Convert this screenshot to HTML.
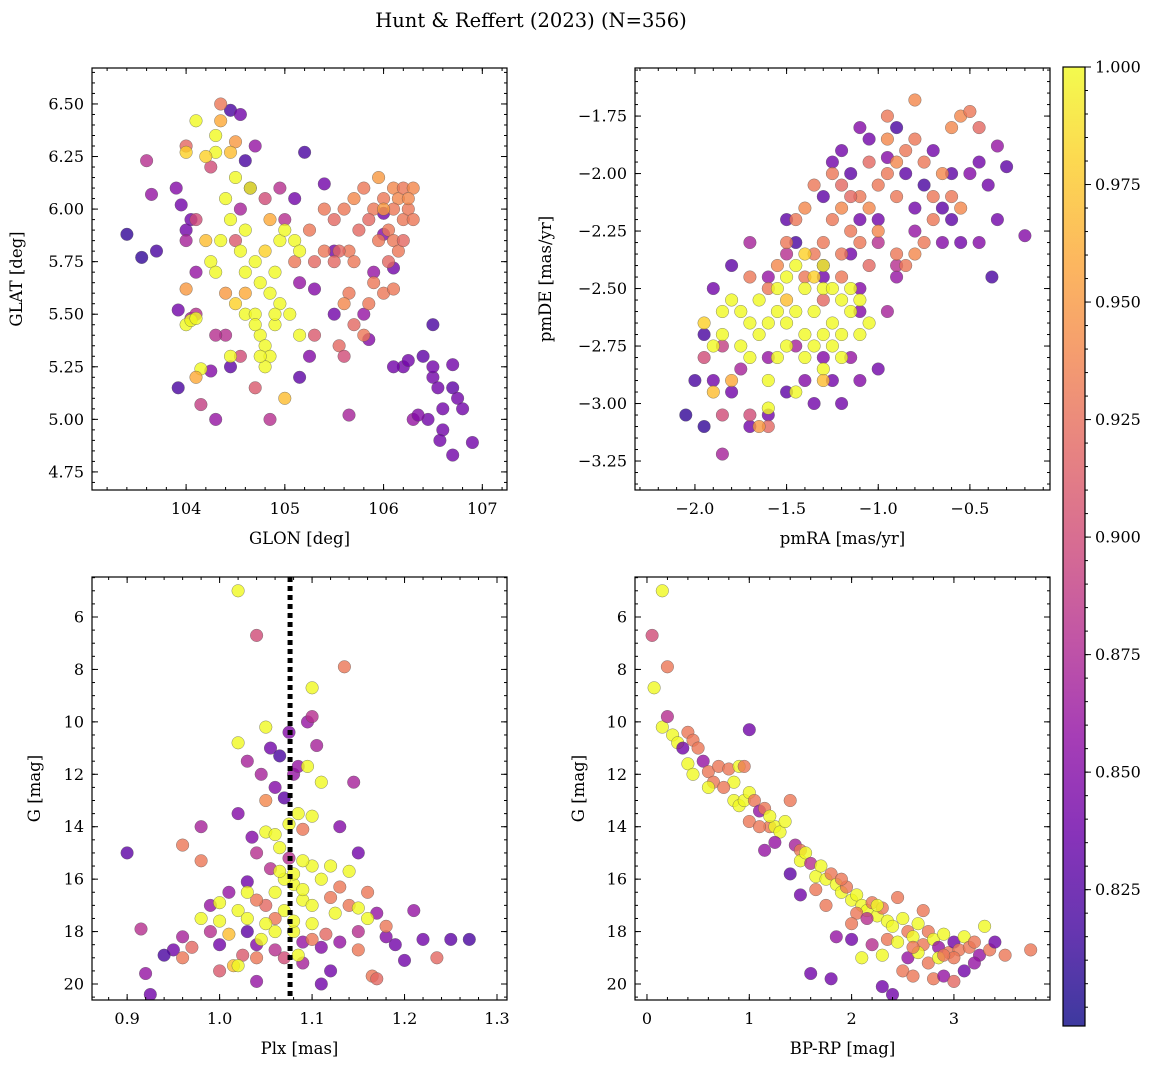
<!DOCTYPE html>
<html><head><meta charset="utf-8">
<style>
body{margin:0;background:#fff;width:1160px;height:1067px;overflow:hidden}
svg{display:block}
text{font-family:"DejaVu Serif","Liberation Serif",serif;fill:#000}
</style></head>
<body>
<svg id="fig" width="1160" height="1067" viewBox="0 0 1160 1067" xmlns="http://www.w3.org/2000/svg">
<defs>
<linearGradient id="plasma" x1="0" y1="1" x2="0" y2="0">
<stop offset="0" stop-color="#0d0887"/><stop offset="0.1" stop-color="#41049d"/><stop offset="0.2" stop-color="#6a00a8"/><stop offset="0.3" stop-color="#8f0da4"/><stop offset="0.4" stop-color="#b12a90"/><stop offset="0.5" stop-color="#cc4778"/><stop offset="0.6" stop-color="#e16462"/><stop offset="0.7" stop-color="#f2844b"/><stop offset="0.8" stop-color="#fca636"/><stop offset="0.9" stop-color="#fcce25"/><stop offset="1" stop-color="#f0f921"/>
</linearGradient>
</defs>
<text x="531" y="27" font-size="19.5" text-anchor="middle">Hunt &amp; Reffert (2023) (N=356)</text>
</svg>
<script>
// ---- data arrays: [x, y, membership probability] ----
const posData = [[103.4,5.88,.81],[103.55,5.77,.81],[103.6,6.23,.88],[103.7,5.8,.82],[103.65,6.07,.86],[103.9,6.1,.85],[103.95,6.02,.84],[103.92,5.52,.84],[103.92,5.15,.82],[104.0,5.9,.84],[104.0,5.85,.87],[104.05,5.48,.87],[104.1,5.5,.88],[104.05,5.95,.84],[104.1,5.7,.86],[104.15,5.07,.89],[104.3,5.0,.86],[104.25,5.23,.85],[104.4,5.4,.88],[104.45,5.25,.83],[104.45,6.47,.82],[104.55,6.45,.84],[104.6,6.23,.82],[104.65,6.1,.83],[104.7,6.3,.86],[104.95,6.1,.88],[105.1,6.05,.84],[105.2,6.27,.82],[105.4,6.12,.84],[105.5,5.8,.84],[105.5,5.5,.84],[105.15,5.2,.83],[105.25,5.3,.85],[105.3,5.62,.85],[105.15,5.65,.86],[105.65,5.02,.87],[105.9,5.7,.86],[105.85,5.38,.85],[105.8,5.5,.86],[106.1,5.72,.84],[106.2,5.25,.84],[106.25,5.28,.84],[106.4,5.3,.83],[106.1,5.25,.84],[106.5,5.45,.82],[106.5,5.2,.84],[106.55,5.15,.84],[106.5,5.25,.84],[106.7,5.15,.83],[106.7,5.26,.84],[106.75,5.1,.84],[106.6,5.05,.84],[106.45,5.0,.84],[106.3,5.0,.86],[106.35,5.02,.85],[106.8,5.05,.84],[106.9,4.89,.84],[106.7,4.83,.84],[106.6,4.95,.84],[106.57,4.9,.84],[106.0,5.98,.84],[106.0,5.88,.85],[104.85,5.0,.88],[104.7,5.15,.91],[104.55,5.3,.9],[104.3,5.4,.88],[104.5,5.85,.91],[104.8,6.05,.9],[105.0,5.95,.88],[104.25,6.2,.9],[104.0,6.3,.92],[104.1,5.95,.9],[104.35,6.5,.93],[104.5,6.32,.95],[104.55,6.0,.87],
[105.4,6.0,.93],[105.5,5.95,.92],[105.6,6.0,.93],[105.7,6.05,.94],[105.8,6.1,.93],[105.9,6.0,.93],[105.95,6.15,.95],[106.0,6.05,.93],[106.1,6.1,.94],[106.15,6.05,.94],[106.2,6.1,.93],[106.1,6.0,.93],[106.2,5.95,.93],[106.25,6.0,.93],[106.3,5.95,.93],[106.05,5.9,.93],[106.1,5.85,.93],[106.15,5.8,.93],[106.2,5.85,.92],[106.05,5.75,.92],[105.95,5.85,.93],[105.85,5.95,.92],[105.75,5.9,.92],[105.65,5.8,.93],[105.55,5.8,.92],[105.4,5.8,.93],[105.5,5.75,.92],[105.7,5.75,.93],[105.65,5.6,.93],[105.6,5.55,.94],[105.7,5.45,.92],[105.55,5.35,.92],[105.8,5.4,.93],[105.85,5.55,.93],[105.25,5.9,.93],[105.3,5.75,.92],[105.1,5.75,.93],[105.9,5.65,.93],[106.0,5.6,.93],[106.1,5.62,.93],[105.6,5.3,.9],[105.3,5.4,.91],[106.0,6.0,.95],[106.3,6.1,.94],[106.25,6.05,.94],
[104.1,6.42,1.0],[104.3,6.35,1.0],[104.3,6.27,1.0],[104.2,6.25,.98],[104.45,6.27,.97],[104.5,6.15,1.0],[104.4,6.05,1.0],[104.45,5.95,1.0],[104.35,5.85,1.0],[104.2,5.85,.97],[104.25,5.75,1.0],[104.3,5.7,1.0],[104.55,5.8,1.0],[104.6,5.9,1.0],[104.6,5.7,1.0],[104.7,5.75,1.0],[104.75,5.65,1.0],[104.8,5.8,.98],[104.9,5.7,1.0],[104.95,5.85,1.0],[105.0,5.9,1.0],[105.1,5.85,1.0],[105.15,5.8,1.0],[104.5,5.55,.98],[104.6,5.5,1.0],[104.7,5.5,1.0],[104.75,5.4,1.0],[104.8,5.35,1.0],[104.85,5.3,1.0],[104.8,5.25,1.0],[104.75,5.3,1.0],[104.7,5.45,1.0],[104.9,5.45,1.0],[104.95,5.55,1.0],[105.05,5.5,1.0],[105.15,5.4,1.0],[104.0,5.45,1.0],[104.05,5.47,1.0],[104.1,5.48,1.0],[104.15,5.24,1.0],[104.1,5.2,.96],[104.6,5.6,.96],[104.4,5.6,.95],[104.0,5.62,.95],[104.85,5.95,.96],[105.0,5.1,.97],[104.9,5.5,1.0],[104.65,6.1,1.0],[104.0,6.27,.98],[104.35,6.42,.96],[104.45,5.3,1.0],[104.85,5.6,1.0]];

const pmData = [[-1.2,-1.9,.84],[-1.25,-1.95,.84],[-1.15,-2.0,.83],[-1.05,-1.85,.84],[-0.95,-1.93,.85],[-0.9,-1.8,.82],[-1.1,-1.8,.85],[-0.7,-1.9,.84],[-0.6,-2.0,.83],[-0.5,-2.0,.85],[-0.45,-1.95,.84],[-0.4,-2.05,.84],[-0.35,-1.88,.86],[-0.3,-1.97,.83],[-0.35,-2.2,.84],[-0.38,-2.45,.82],[-0.2,-2.27,.85],[-0.45,-2.3,.85],[-0.55,-2.3,.84],[-0.6,-2.2,.83],[-0.65,-2.15,.83],[-0.75,-2.05,.82],[-0.8,-2.15,.84],[-0.85,-2.0,.83],[-0.65,-2.3,.85],[-0.8,-2.25,.86],[-1.0,-2.2,.84],[-1.1,-2.2,.84],[-1.3,-2.1,.83],[-1.45,-2.3,.82],[-1.5,-2.2,.83],[-1.7,-2.3,.87],[-1.3,-2.4,.85],[-1.1,-2.5,.85],[-0.95,-2.6,.87],[-0.9,-2.45,.86],[-1.0,-2.3,.88],[-1.15,-2.35,.84],[-1.3,-2.45,.84],[-1.8,-2.4,.83],[-1.9,-2.5,.84],[-1.95,-2.7,.82],[-2.0,-2.9,.82],[-2.05,-3.05,.81],[-1.95,-3.1,.81],[-1.9,-2.9,.84],[-1.8,-2.95,.84],[-1.7,-3.1,.84],[-1.6,-3.05,.84],[-1.5,-2.95,.83],[-1.4,-2.9,.85],[-1.35,-3.0,.84],[-1.25,-2.9,.84],[-1.2,-3.0,.84],[-1.1,-2.9,.85],[-1.0,-2.85,.84],[-1.15,-2.8,.86],[-1.3,-2.8,.85],[-1.45,-2.75,.87],[-1.6,-2.8,.86],[-1.75,-2.85,.87],[-1.85,-3.05,.9],[-1.85,-3.22,.87],[-1.7,-3.05,.9],[-1.6,-3.1,.92],[-1.95,-2.8,.9],[-1.85,-2.75,.89],[-1.5,-2.35,.88],[-1.6,-2.45,.86],[-0.9,-2.4,.88],[-1.1,-2.6,.85],
[-1.3,-2.3,.93],[-1.25,-2.2,.93],[-1.2,-2.15,.94],[-1.1,-2.1,.93],[-1.0,-2.05,.93],[-0.95,-2.0,.93],[-0.9,-1.95,.94],[-0.85,-1.9,.93],[-0.8,-1.85,.93],[-0.75,-1.95,.93],[-0.7,-2.1,.93],[-0.65,-2.0,.94],[-0.6,-1.8,.94],[-0.55,-1.75,.94],[-0.5,-1.73,.93],[-0.45,-1.8,.92],[-0.8,-1.68,.94],[-0.95,-1.75,.93],[-1.05,-1.95,.92],[-1.15,-2.1,.92],[-1.2,-2.05,.92],[-1.25,-2.0,.93],[-1.35,-2.05,.93],[-1.4,-2.15,.94],[-1.45,-2.2,.93],[-1.35,-2.35,.93],[-1.2,-2.35,.93],[-1.1,-2.3,.93],[-1.0,-2.25,.94],[-0.9,-2.35,.93],[-0.85,-2.4,.93],[-0.8,-2.35,.94],[-0.75,-2.3,.93],[-0.7,-2.2,.93],[-0.6,-2.1,.93],[-0.55,-2.15,.94],[-1.5,-2.3,.93],[-1.55,-2.4,.94],[-1.6,-2.5,.93],[-1.7,-2.45,.93],[-1.4,-2.45,.93],[-1.3,-2.55,.92],[-0.9,-2.1,.93],[-1.05,-2.15,.94],[-1.15,-2.25,.93],[-1.05,-2.4,.92],[-1.2,-2.45,.93],[-0.95,-1.85,.94],
[-1.85,-2.6,1.0],[-1.8,-2.55,1.0],[-1.75,-2.6,1.0],[-1.7,-2.65,1.0],[-1.65,-2.7,1.0],[-1.6,-2.65,1.0],[-1.55,-2.6,1.0],[-1.5,-2.65,1.0],[-1.45,-2.6,1.0],[-1.4,-2.7,1.0],[-1.35,-2.75,1.0],[-1.3,-2.7,1.0],[-1.25,-2.65,1.0],[-1.2,-2.7,1.0],[-1.15,-2.6,1.0],[-1.2,-2.55,1.0],[-1.3,-2.5,1.0],[-1.4,-2.5,1.0],[-1.5,-2.45,1.0],[-1.45,-2.4,1.0],[-1.35,-2.45,.98],[-1.25,-2.5,1.0],[-1.15,-2.5,1.0],[-1.1,-2.55,1.0],[-1.05,-2.65,1.0],[-1.1,-2.7,1.0],[-1.2,-2.8,1.0],[-1.3,-2.85,1.0],[-1.4,-2.8,1.0],[-1.5,-2.75,1.0],[-1.55,-2.8,1.0],[-1.6,-2.9,1.0],[-1.7,-2.8,1.0],[-1.75,-2.75,1.0],[-1.85,-2.7,1.0],[-1.9,-2.75,1.0],[-1.95,-2.65,.98],[-1.6,-3.02,1.0],[-1.65,-2.55,1.0],[-1.45,-2.95,1.0],[-1.35,-2.6,1.0],[-1.25,-2.75,1.0],[-1.3,-2.4,1.0],[-1.4,-2.35,.98],[-1.55,-2.5,1.0],[-1.8,-2.9,.96],[-1.9,-2.95,.97],[-1.65,-3.1,.95],[-1.5,-2.55,.97],[-1.3,-2.9,.97]];

const plxData = [[1.02,5.0,1.0],[1.04,6.7,.9],[1.135,7.9,.93],[1.1,8.7,1.0],[0.9,15.0,.83],[0.915,17.9,.88],[0.92,19.6,.86],[0.925,20.4,.84],[0.95,18.7,.84],[0.96,18.2,.87],[0.96,14.7,.93],[0.98,15.3,.93],[0.98,14.0,.87],[0.98,17.5,1.0],[0.99,17.0,.86],[0.99,18.0,.88],[1.0,18.5,.84],[1.0,19.5,.91],[1.01,16.5,.86],[1.01,18.1,.97],[1.015,19.3,.97],[1.02,10.8,1.0],[1.02,17.2,1.0],[1.025,18.9,.91],[1.03,11.5,.87],[1.03,16.1,.84],[1.03,17.5,1.0],[1.035,14.4,.85],[1.04,15.0,.88],[1.04,18.5,.85],[1.04,19.9,.86],[1.045,12.0,.87],[1.05,10.2,1.0],[1.05,13.0,.94],[1.05,14.2,1.0],[1.05,17.0,.92],[1.055,11.0,.84],[1.055,15.6,.88],[1.06,12.5,.85],[1.06,16.5,1.0],[1.06,18.0,1.0],[1.065,11.3,.82],[1.065,14.8,1.0],[1.07,12.9,.83],[1.07,17.2,1.0],[1.07,19.0,.9],[1.075,10.4,.85],[1.075,15.2,.88],[1.08,12.0,.86],[1.08,16.2,1.0],[1.08,18.0,1.0],[1.085,13.5,1.0],[1.085,11.7,.86],[1.09,14.1,.93],[1.09,16.8,1.0],[1.09,19.2,.87],[1.095,10.0,.86],[1.095,11.7,1.0],[1.1,9.8,.88],[1.1,13.6,1.0],[1.1,15.5,1.0],[1.1,17.7,1.0],[1.105,10.9,.87],[1.11,12.3,1.0],[1.11,16.0,1.0],[1.115,18.1,.92],[1.12,15.5,1.0],[1.125,17.3,1.0],[1.13,14.0,.85],[1.13,18.4,.86],[1.14,15.7,1.0],[1.14,17.0,.93],[1.145,12.3,.87],[1.15,15.0,.84],[1.15,18.0,.88],[1.16,16.5,.93],[1.165,19.7,.93],[1.17,17.3,.86],[1.17,19.8,.92],[1.18,18.2,.85],[1.19,18.5,.84],[1.2,19.1,.84],[1.21,17.2,.86],[1.22,18.3,.84],[1.235,19.0,.92],[1.25,18.3,.83],[1.27,18.3,.82],[1.02,13.5,.85],[1.03,18.0,.83],[1.06,17.5,.93],[1.07,16.0,1.0],[1.08,17.6,1.0],[1.09,18.4,.86],[1.1,17.0,1.0],[1.05,17.7,1.0],[1.06,18.7,.88],[1.0,16.9,1.0],[1.12,16.7,.93],[1.11,18.6,.85],[1.04,16.8,.93],[0.97,18.6,.92],[0.94,18.9,.82],[1.15,17.1,1.0],[1.13,16.3,.93],[1.0,17.6,1.0],[1.09,15.3,1.0],[1.08,15.8,1.0],[1.065,15.7,1.0],[1.02,19.3,1.0],[1.12,19.5,.84],[1.11,20.0,.84],[1.18,17.8,.93],[1.16,17.5,1.0],[1.03,16.5,1.0],[1.06,14.3,1.0],[1.075,13.9,1.0],[1.09,16.4,1.0],[1.045,18.3,1.0],[1.085,18.9,1.0],[1.1,18.3,.93],[1.15,18.7,.93],[1.04,19.0,.93],[0.96,19.0,.93]];

const cmdData = [[0.15,5.0,1.0],[0.05,6.7,.9],[0.2,7.9,.93],[0.07,8.7,1.0],[0.15,10.2,1.0],[0.2,9.8,.88],[0.25,10.5,1.0],[0.3,10.8,1.0],[0.35,11.0,.84],[0.4,10.4,.93],[0.45,10.7,.93],[0.5,11.0,.93],[0.4,11.6,1.0],[0.45,12.0,1.0],[0.55,11.5,.86],[0.6,11.9,.93],[0.65,12.3,.93],[0.7,11.7,.93],[0.8,11.8,.93],[0.85,12.3,1.0],[0.9,11.7,1.0],[0.95,11.7,.93],[1.0,10.3,.84],[0.85,13.0,1.0],[0.9,13.2,1.0],[0.95,13.0,1.0],[1.0,12.7,1.0],[1.05,13.0,.93],[1.1,13.4,.86],[1.15,13.3,.93],[1.2,14.0,.93],[1.25,14.0,1.0],[1.3,14.2,1.0],[1.35,13.8,1.0],[1.4,13.0,.93],[1.45,14.7,.87],[1.5,14.9,.93],[1.5,15.3,1.0],[1.55,15.0,1.0],[1.6,15.4,.88],[1.65,15.9,1.0],[1.7,15.5,1.0],[1.75,16.0,1.0],[1.8,15.8,.93],[1.85,16.2,1.0],[1.9,16.5,1.0],[1.95,16.3,.93],[2.0,16.8,1.0],[2.05,16.6,1.0],[2.1,17.0,1.0],[2.15,17.2,1.0],[2.2,16.9,.93],[2.25,17.4,1.0],[2.3,17.1,.93],[2.35,17.6,1.0],[2.4,17.8,1.0],[2.45,16.7,.93],[2.5,17.5,1.0],[2.55,18.0,.93],[2.6,18.2,1.0],[2.65,17.7,1.0],[2.7,18.5,.93],[2.75,18.0,.93],[2.8,18.3,1.0],[2.85,18.6,.86],[2.9,18.1,1.0],[2.95,18.8,.93],[3.0,18.4,.84],[3.05,18.7,.93],[3.1,18.2,1.0],[3.15,18.6,.93],[3.2,18.4,.93],[3.25,18.9,.86],[3.3,17.8,1.0],[3.35,18.7,.93],[3.4,18.4,.84],[3.5,18.9,.93],[3.75,18.7,.93],[0.6,12.5,1.0],[1.15,14.9,.86],[1.0,13.8,.93],[1.25,14.6,.86],[1.4,15.8,.83],[1.5,16.6,.84],[1.6,19.6,.84],[1.8,19.8,.84],[1.85,18.2,.86],[2.0,18.3,.84],[2.1,19.0,1.0],[2.2,18.5,.88],[2.3,20.1,.84],[2.4,20.4,.84],[2.5,19.5,.93],[2.55,19.0,.86],[2.6,19.7,.93],[2.8,19.8,.93],[2.9,19.7,.86],[3.0,19.9,.92],[3.1,19.5,.84],[3.2,19.2,.86],[1.9,16.0,.93],[2.05,17.3,.93],[2.15,17.5,.88],[2.25,17.0,1.0],[2.35,18.3,.93],[2.45,18.4,1.0],[2.65,18.8,1.0],[2.75,19.2,.93],[2.85,19.0,1.0],[1.65,16.4,.93],[1.75,17.0,.93],[2.0,17.7,.93],[2.3,18.9,1.0],[2.6,18.6,.93],[3.0,19.0,.93],[2.7,17.2,.93],[2.9,18.9,.93],[1.2,13.6,1.0],[1.1,14.0,.93],[0.75,12.5,.93]];

const plxLine = 1.0762;
const posXTicks = [104,105,106,107], posYTicks = [4.75,5.00,5.25,5.50,5.75,6.00,6.25,6.50];
const pmXTicks = [-2.0,-1.5,-1.0,-0.5], pmYTicks = [-3.25,-3.00,-2.75,-2.50,-2.25,-2.00,-1.75];
const plxXTicks = [0.9,1.0,1.1,1.2,1.3], gTicks = [6,8,10,12,14,16,18,20];
const cmdXTicks = [0,1,2,3];
const cbTicks = [0.825,0.850,0.875,0.900,0.925,0.950,0.975,1.000];
const cMin = 0.796, cMax = 1.0;

const NS = "http://www.w3.org/2000/svg";
const svg = document.getElementById('fig');
function mk(tag, attrs, parent){const e=document.createElementNS(NS,tag);for(const k in attrs)e.setAttribute(k,attrs[k]);(parent||svg).appendChild(e);return e;}

const stops=[[13,8,135],[65,4,157],[106,0,168],[143,13,164],[177,42,144],[204,71,120],[225,100,98],[242,132,75],[252,166,54],[252,206,37],[240,249,33]];
function cmap(c){let t=Math.max(0,Math.min(1,(c-cMin)/(cMax-cMin)))*10;let i=Math.min(9,Math.floor(t)),f=t-i;const a=stops[i],b=stops[i+1];return `rgb(${a.map((v,k)=>Math.round(v+(b[k]-v)*f)).join(',')})`;}

function fmt(v,d){return (v<0?'\u2212':'')+Math.abs(v).toFixed(d);}

function panel(o){
  const g=mk('g',{});
  
  
  const {x0,x1,y0,y1}=o.box;
  const sx=v=>x0+(v-o.xr[0])/(o.xr[1]-o.xr[0])*(x1-x0);
  const sy=o.invert? v=>y0+(v-o.yr[0])/(o.yr[1]-o.yr[0])*(y1-y0) : v=>y1-(v-o.yr[0])/(o.yr[1]-o.yr[0])*(y1-y0);
  const cl=mk('clipPath',{id:'clip-'+o.name},g);mk('rect',{x:x0,y:y0,width:x1-x0,height:y1-y0},cl);
  const pg=mk('g',{'clip-path':`url(#clip-${o.name})`},g);
  o.data.forEach(d=>{
    const c=mk('circle',{cx:sx(d[0]).toFixed(1),cy:sy(d[1]).toFixed(1),r:6.3,fill:cmap(d[2]),'fill-opacity':0.8,stroke:'#555','stroke-width':0.5,'stroke-opacity':0.7},pg);
    
    
  });
  if(o.vline!==undefined){
    const l=mk('line',{x1:sx(o.vline),x2:sx(o.vline),y1:y0,y2:y1,stroke:'#000','stroke-width':5,'stroke-dasharray':'5,4'},pg);
    
    
  }
  const fr=mk('rect',{x:x0,y:y0,width:x1-x0,height:y1-y0,fill:'none',stroke:'#000','stroke-width':1.2},g);
  
  
  const lo=Math.ceil(o.xr[0]/o.xm-1e-9), hi=Math.floor(o.xr[1]/o.xm+1e-9);
  for(let i=lo;i<=hi;i++){const X=sx(i*o.xm);mk('line',{x1:X,x2:X,y1:y1,y2:y1-3,stroke:'#000'},g);mk('line',{x1:X,x2:X,y1:y0,y2:y0+3,stroke:'#000'},g);}
  const ylo=Math.ceil(Math.min(...o.yr)/o.ym-1e-9), yhi=Math.floor(Math.max(...o.yr)/o.ym+1e-9);
  for(let i=ylo;i<=yhi;i++){const Y=sy(i*o.ym);mk('line',{x1:x0,x2:x0+3,y1:Y,y2:Y,stroke:'#000'},g);mk('line',{x1:x1,x2:x1-3,y1:Y,y2:Y,stroke:'#000'},g);}
  o.xt.forEach(v=>{const X=sx(v);mk('line',{x1:X,x2:X,y1:y1,y2:y1-6,stroke:'#000'},g);mk('line',{x1:X,x2:X,y1:y0,y2:y0+6,stroke:'#000'},g);
    const t=mk('text',{x:X,y:y1+24,'font-size':16,'text-anchor':'middle'},g);t.textContent=fmt(v,o.xd);
    
    });
  o.yt.forEach(v=>{const Y=sy(v);mk('line',{x1:x0,x2:x0+6,y1:Y,y2:Y,stroke:'#000'},g);mk('line',{x1:x1,x2:x1-6,y1:Y,y2:Y,stroke:'#000'},g);
    const t=mk('text',{x:x0-8,y:Y+5.5,'font-size':16,'text-anchor':'end'},g);t.textContent=fmt(v,o.yd);
    
    });
  const xl=mk('text',{x:(x0+x1)/2,y:y1+54,'font-size':16.5,'text-anchor':'middle'},g);xl.textContent=o.xlabel;
  
  
  const ylx=o.ylx, yly=(y0+y1)/2;
  const yl=mk('text',{x:ylx,y:yly,'font-size':16.5,'text-anchor':'middle',transform:`rotate(-90 ${ylx} ${yly})`},g);yl.textContent=o.ylabel;
  
  
}

panel({name:'glon-glat-panel',box:{x0:92,x1:507,y0:68,y1:490},xr:[103.047,107.25],yr:[4.664,6.671],data:posData,xt:posXTicks,yt:posYTicks,xm:0.2,ym:0.05,xd:0,yd:2,xlabel:'GLON [deg]',ylabel:'GLAT [deg]',ylx:22});
panel({name:'pm-panel',box:{x0:635,x1:1050,y0:68,y1:490},xr:[-2.327,-0.063],yr:[-3.376,-1.541],data:pmData,xt:pmXTicks,yt:pmYTicks,xm:0.1,ym:0.05,xd:1,yd:2,xlabel:'pmRA [mas/yr]',ylabel:'pmDE [mas/yr]',ylx:551});
panel({name:'plx-g-panel',box:{x0:92,x1:507,y0:577,y1:1000},xr:[0.862,1.3108],yr:[4.474,20.61],invert:true,data:plxData,xt:plxXTicks,yt:gTicks,xm:0.02,ym:0.5,xd:1,yd:0,xlabel:'Plx [mas]',ylabel:'G [mag]',ylx:40,vline:plxLine});
panel({name:'cmd-panel',box:{x0:635,x1:1050,y0:577,y1:1000},xr:[-0.117,3.939],yr:[4.474,20.61],invert:true,data:cmdData,xt:cmdXTicks,yt:gTicks,xm:0.2,ym:0.5,xd:0,yd:0,xlabel:'BP-RP [mag]',ylabel:'G [mag]',ylx:584});

const cb=mk('g',{});


const cbx0=1063,cbx1=1085,cby0=67,cby1=1026;
mk('rect',{x:cbx0,y:cby0,width:cbx1-cbx0,height:cby1-cby0,fill:'url(#plasma)','fill-opacity':0.8},cb);
mk('rect',{x:cbx0,y:cby0,width:cbx1-cbx0,height:cby1-cby0,fill:'none',stroke:'#000','stroke-width':1.2},cb);
const cy=v=>cby1-(v-cMin)/(cMax-cMin)*(cby1-cby0);
for(let i=Math.ceil(cMin/0.005);i<=Math.floor(cMax/0.005+1e-9);i++){const Y=cy(i*0.005);mk('line',{x1:cbx1,x2:cbx1+3,y1:Y,y2:Y,stroke:'#000'},cb);}
cbTicks.forEach(v=>{const Y=cy(v);mk('line',{x1:cbx1,x2:cbx1+6,y1:Y,y2:Y,stroke:'#000'},cb);
  const t=mk('text',{x:cbx1+10,y:Y+5.5,'font-size':16},cb);t.textContent=v.toFixed(3);
  
  });
</script>
</body></html>
